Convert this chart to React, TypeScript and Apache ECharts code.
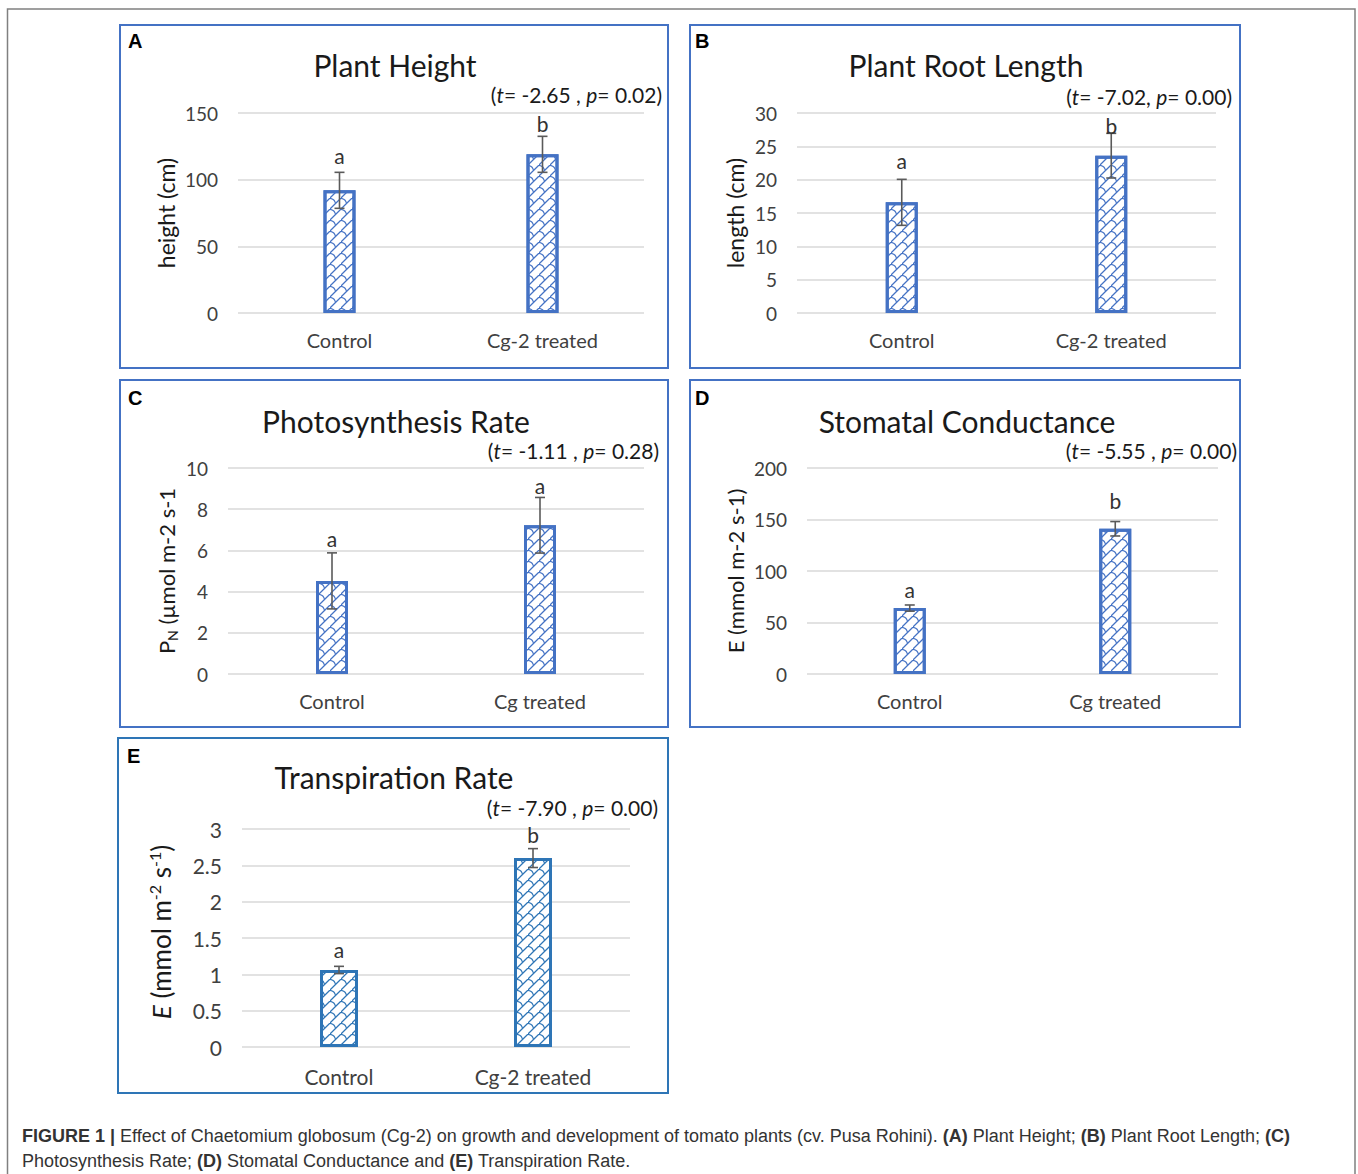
import React, { useEffect, useRef } from 'react';
import * as echarts from 'echarts';

// ---------- data ----------
const panelIds = ['A', 'B', 'C', 'D', 'E'];
const panelTitles = ['Plant Height', 'Plant Root Length', 'Photosynthesis Rate', 'Stomatal Conductance', 'Transpiration Rate'];
const categoriesCg2 = ['Control', 'Cg-2 treated'];
const categoriesCg = ['Control', 'Cg treated'];

const heightMeans = [92, 119];
const heightErrors = [13.5, 13.5];
const heightLetters = ['a', 'b'];
const heightLetterY = [118, 142];

const rootMeans = [16.6, 23.6];
const rootErrors = [3.45, 3.35];
const rootLetters = ['a', 'b'];
const rootLetterY = [22.9, 28.2];

const photoMeans = [4.52, 7.22];
const photoErrors = [1.36, 1.35];
const photoLetters = ['a', 'a'];
const photoLetterY = [6.56, 9.15];

const stomataMeans = [64, 141];
const stomataErrors = [3, 7];
const stomataLetters = ['a', 'b'];
const stomataLetterY = [82, 168];

const transpMeans = [1.06, 2.6];
const transpErrors = [0.05, 0.13];
const transpLetters = ['a', 'b'];
const transpLetterY = [1.34, 2.93];

const yMaxes = [150, 30, 10, 200, 3];
const yIntervals = [50, 5, 2, 50, 0.5];
const tValues = ['-2.65', '-7.02', '-1.11', '-5.55', '-7.90'];
const pValues = ['0.02', '0.00', '0.28', '0.00', '0.00'];
const statSeparators = [' , ', ', ', ' , ', ' , ', ' , '];

const captionLine1 =
  '{b|FIGURE 1 |} Effect of Chaetomium globosum (Cg-2) on growth and development of tomato plants (cv. Pusa Rohini). {b|(A)} Plant Height; {b|(B)} Plant Root Length; {b|(C)}';
const captionLine2 = 'Photosynthesis Rate; {b|(D)} Stomatal Conductance and {b|(E)} Transpiration Rate.';

const panelData = [
  { cats: categoriesCg2, means: heightMeans, errs: heightErrors, letters: heightLetters, letterY: heightLetterY },
  { cats: categoriesCg2, means: rootMeans, errs: rootErrors, letters: rootLetters, letterY: rootLetterY },
  { cats: categoriesCg, means: photoMeans, errs: photoErrors, letters: photoLetters, letterY: photoLetterY },
  { cats: categoriesCg, means: stomataMeans, errs: stomataErrors, letters: stomataLetters, letterY: stomataLetterY },
  { cats: categoriesCg2, means: transpMeans, errs: transpErrors, letters: transpLetters, letterY: transpLetterY },
];

// ---------- layout ----------
const FONT = 'Lato';
const CAP_FONT = '"Liberation Sans", Arial, sans-serif';
const layout = [
  { box: [120, 25, 548, 343], grid: [238, 113, 406, 200], titleX: 395, titleY: 65, statX: 662, statY: 94, nameX: 166, idY: 41, idX: 128, color: '#4472C4', barW: 32, tick: 19, cat: 20, catMargin: 17 },
  { box: [690, 25, 550, 343], grid: [797, 113, 419, 200], titleX: 966, titleY: 65, statX: 1232, statY: 96, nameX: 735, idY: 41, idX: 695, color: '#4472C4', barW: 32, tick: 19, cat: 20, catMargin: 17 },
  { box: [120, 380, 548, 347], grid: [228, 468, 416, 206], titleX: 396, titleY: 421, statX: 659, statY: 450, nameX: 166, idY: 398, idX: 128, color: '#4472C4', barW: 32, tick: 19, cat: 20, catMargin: 17 },
  { box: [690, 380, 550, 347], grid: [807, 468, 411, 206], titleX: 967, titleY: 421, statX: 1237, statY: 450, nameX: 735, idY: 398, idX: 695, color: '#4472C4', barW: 32, tick: 19, cat: 20, catMargin: 17 },
  { box: [118, 738, 550, 355], grid: [242, 829, 388, 218], titleX: 394, titleY: 777, statX: 658, statY: 807, nameX: 161, idY: 756, idX: 127, color: '#2E75B6', barW: 38, tick: 21, cat: 21, catMargin: 19 },
];

const yNames = [
  { text: 'height (cm)', size: 23 },
  { text: 'length (cm)', size: 23 },
  { text: '{n|P}{sub|N}{n| (µmol m-2 s-1}', size: 22 },
  { text: 'E (mmol m-2 s-1)', size: 22 },
  { text: '{i|E}{n| (mmol m}{sup|-2}{n| s}{sup|-1}{n|)}', size: 26 },
];

const shinglePath =
  'path://M0,9.2L9.2,0L10,0L10,0.8L0.8,10L0,10Z M0,0L1,0Q5,1 5.3,4.5L4.5,5.1Q4,1.7 0,0.9Z';

function buildOption() {
  const grids: any[] = [];
  const xAxes: any[] = [];
  const yAxes: any[] = [];
  const series: any[] = [];
  const graphics: any[] = [];

  graphics.push({
    type: 'polyline',
    shape: { points: [[7.5, 1174], [7.5, 9], [1355, 9], [1355, 1174]] },
    style: { stroke: '#808080', lineWidth: 1.5, fill: null },
    silent: true,
  });

  layout.forEach((L, i) => {
    const d = panelData[i];
    grids.push({ left: L.grid[0], top: L.grid[1], width: L.grid[2], height: L.grid[3] });
    xAxes.push({
      type: 'category',
      gridIndex: i,
      data: d.cats,
      axisLine: { show: false },
      axisTick: { show: false },
      axisLabel: { margin: L.catMargin, fontSize: L.cat, fontFamily: FONT, color: '#404040' },
    });
    yAxes.push({
      type: 'value',
      gridIndex: i,
      min: 0,
      max: yMaxes[i],
      interval: yIntervals[i],
      axisLine: { show: false },
      axisTick: { show: false },
      axisLabel: { margin: 20, fontSize: L.tick, fontFamily: FONT, color: '#404040' },
      splitLine: { lineStyle: { color: '#d9d9d9', width: 1.5 } },
    });
    series.push({
      type: 'bar',
      xAxisIndex: i,
      yAxisIndex: i,
      barWidth: L.barW,
      data: d.means,
      itemStyle: {
        color: '#ffffff',
        borderColor: L.color,
        borderWidth: 3,
        decal: {
          symbol: shinglePath,
          symbolSize: 1,
          symbolKeepAspect: true,
          color: L.color,
          backgroundColor: null,
          dashArrayX: [11, 0],
          dashArrayY: [11, 0],
          rotation: 0,
        },
      },
      z: 2,
    });
    const errData = d.means.map((m, k) => [k, m + d.errs[k], m - d.errs[k], d.letterY[k]]);
    series.push({
      type: 'custom',
      xAxisIndex: i,
      yAxisIndex: i,
      data: errData,
      encode: { x: 0, y: [1, 2] },
      z: 5,
      renderItem: (params: any, api: any) => {
        const xi = api.value(0);
        const top = api.coord([xi, api.value(1)]);
        const bot = api.coord([xi, api.value(2)]);
        const lab = api.coord([xi, api.value(3)]);
        const st = { stroke: '#5a5a5a', lineWidth: 1.6 };
        return {
          type: 'group',
          children: [
            { type: 'line', shape: { x1: top[0], y1: top[1], x2: bot[0], y2: bot[1] }, style: st },
            { type: 'line', shape: { x1: top[0] - 5, y1: top[1], x2: top[0] + 5, y2: top[1] }, style: st },
            { type: 'line', shape: { x1: bot[0] - 5, y1: bot[1], x2: bot[0] + 5, y2: bot[1] }, style: st },
            {
              type: 'text',
              x: lab[0],
              y: lab[1],
              style: {
                text: d.letters[params.dataIndex],
                fontSize: 21,
                fontFamily: FONT,
                fill: '#333333',
                align: 'center',
                verticalAlign: 'middle',
              },
            },
          ],
        };
      },
    });

    graphics.push({
      type: 'rect',
      shape: { x: L.box[0], y: L.box[1], width: L.box[2], height: L.box[3] },
      style: { fill: null, stroke: L.color, lineWidth: 2 },
      silent: true,
      z: 0,
    });
    graphics.push({
      type: 'text',
      x: L.idX,
      y: L.idY,
      style: {
        text: panelIds[i],
        font: 'bold 20px "Liberation Sans", Arial, sans-serif',
        fill: '#000',
        align: 'left',
        verticalAlign: 'middle',
      },
    });
    graphics.push({
      type: 'text',
      x: L.titleX,
      y: L.titleY,
      style: {
        text: panelTitles[i],
        fontSize: 30,
        fontFamily: FONT,
        fill: '#1a1a1a',
        align: 'center',
        verticalAlign: 'middle',
      },
    });
    graphics.push({
      type: 'text',
      x: L.statX,
      y: L.statY,
      style: {
        text: `{n|(}{i|t}{n|= ${tValues[i]}${statSeparators[i]}}{i|p}{n|= ${pValues[i]})}`,
        align: 'right',
        verticalAlign: 'middle',
        rich: {
          n: { fontSize: 21, fontFamily: FONT, fill: '#1a1a1a' },
          i: { fontSize: 21, fontFamily: FONT, fontStyle: 'italic', fill: '#1a1a1a' },
        },
      },
    });
    const yn = yNames[i];
    const cy = L.grid[1] + L.grid[3] / 2 + (i === 4 ? -6 : 0);
    graphics.push({
      type: 'text',
      x: L.nameX,
      y: cy,
      rotation: Math.PI / 2,
      style: {
        text: yn.text,
        fontSize: yn.size,
        fontFamily: FONT,
        fill: '#1a1a1a',
        align: 'center',
        verticalAlign: 'middle',
        rich: {
          n: { fontSize: yn.size, fontFamily: FONT, fill: '#1a1a1a', lineHeight: yn.size + 4 },
          i: { fontSize: yn.size, fontFamily: FONT, fontStyle: 'italic', fill: '#1a1a1a', lineHeight: yn.size + 4 },
          sub: { fontSize: 14, fontFamily: FONT, fill: '#1a1a1a', verticalAlign: 'bottom', lineHeight: yn.size + 4 },
          sup: { fontSize: 16, fontFamily: FONT, fill: '#1a1a1a', verticalAlign: 'top', lineHeight: yn.size + 4 },
        },
      },
    });
  });

  const capRich = {
    b: { fontSize: 18, fontFamily: CAP_FONT, fontWeight: 'bold', fill: '#333333' },
  };
  graphics.push({
    type: 'text',
    x: 22,
    y: 1136,
    style: {
      text: captionLine1,
      fontSize: 18,
      fontFamily: CAP_FONT,
      fill: '#333333',
      align: 'left',
      verticalAlign: 'middle',
      rich: capRich,
    },
  });
  graphics.push({
    type: 'text',
    x: 22,
    y: 1161,
    style: {
      text: captionLine2,
      fontSize: 18,
      fontFamily: CAP_FONT,
      fill: '#333333',
      align: 'left',
      verticalAlign: 'middle',
      rich: capRich,
    },
  });

  return {
    animation: false,
    backgroundColor: '#ffffff',
    textStyle: { fontFamily: FONT },
    grid: grids,
    xAxis: xAxes,
    yAxis: yAxes,
    series,
    graphic: { elements: graphics },
  };
}

export default function App() {
  const ref = useRef<HTMLDivElement>(null);
  useEffect(() => {
    const chart = echarts.init(ref.current as HTMLDivElement, null, { renderer: 'svg' });
    chart.setOption(buildOption() as any);
    return () => chart.dispose();
  }, []);
  return (
    <div
      ref={ref}
      style={{ position: 'absolute', left: 0, top: 0, width: 1358, height: 1174, background: '#fff' }}
    />
  );
}
